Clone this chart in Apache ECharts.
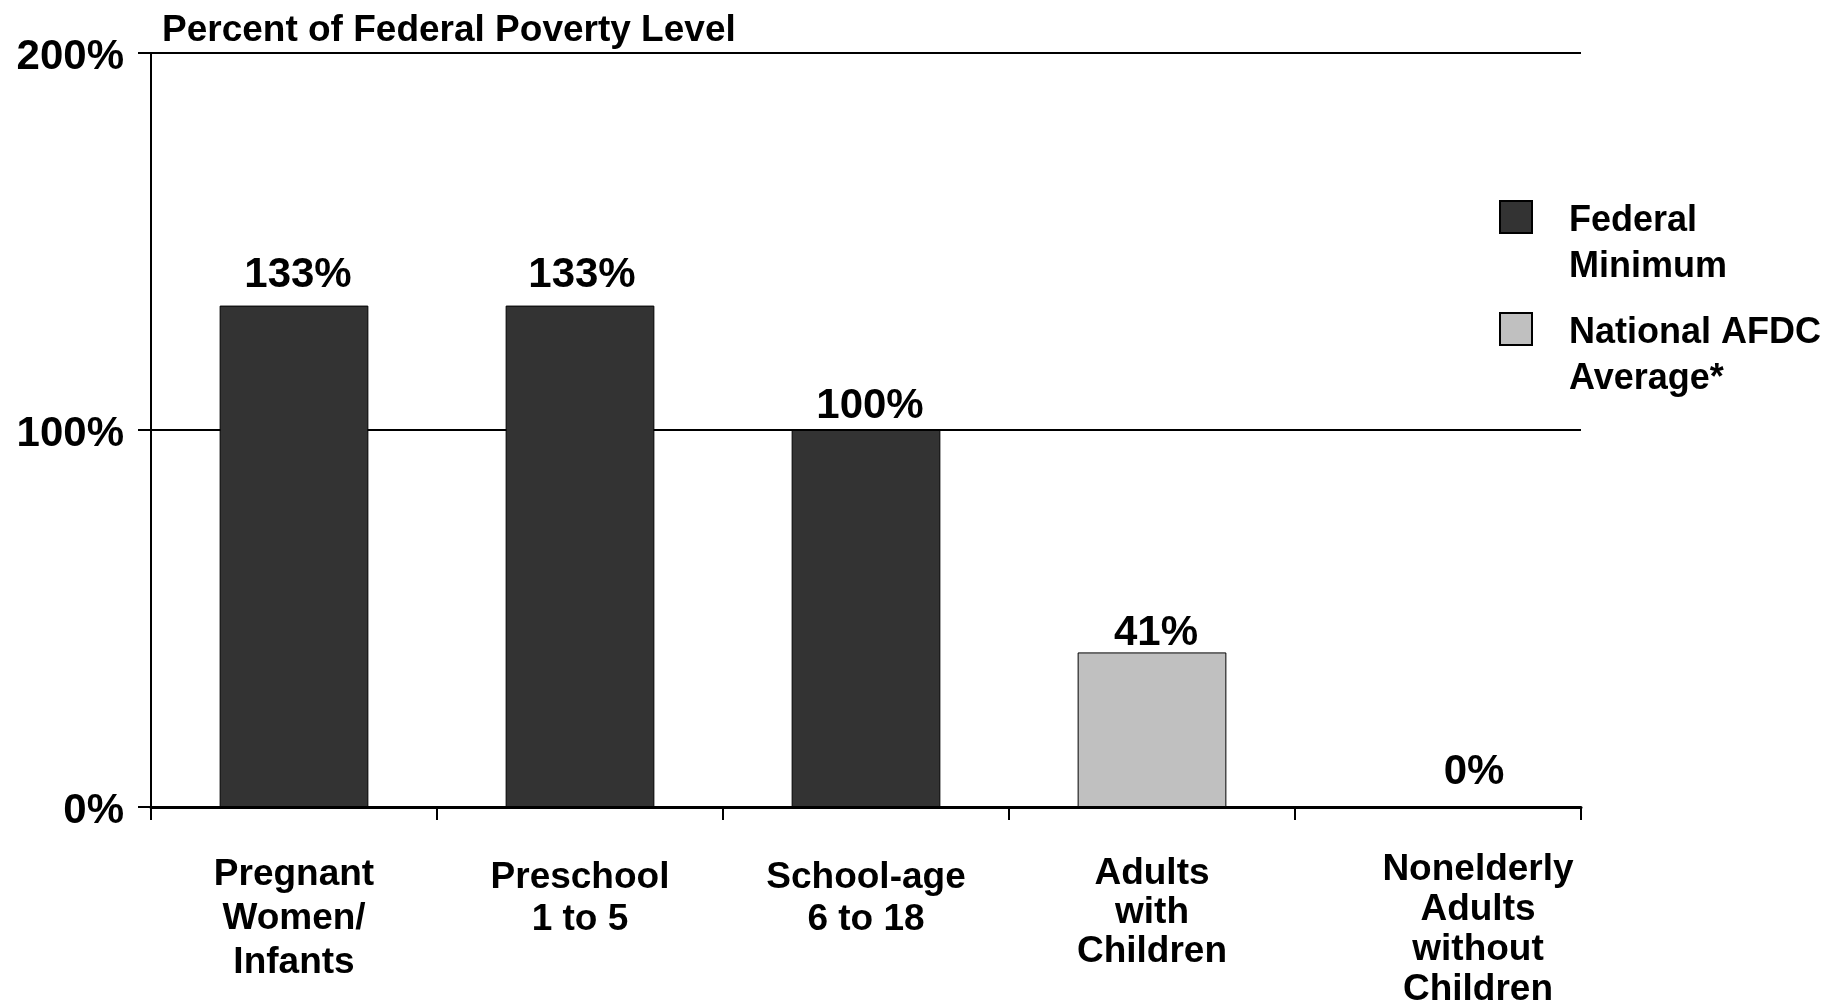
<!DOCTYPE html>
<html>
<head>
<meta charset="utf-8">
<title>Medicaid eligibility thresholds</title>
<script src="https://cdn.jsdelivr.net/npm/echarts@6/dist/echarts.min.js"></script>
<style>
  html, body { margin: 0; padding: 0; background: #ffffff; }
  #chart { width: 1847px; height: 1002px; }
</style>
</head>
<body>
<div id="chart"></div>
<script>
// Eligibility groups along the x axis
const categories = [
  'Pregnant\nWomen/\nInfants',
  'Preschool\n1 to 5',
  'School-age\n6 to 18',
  'Adults\nwith\nChildren',
  'Nonelderly\nAdults\nwithout\nChildren'
];

// Series names shown in the legend
const seriesNames = ['Federal\nMinimum', 'National AFDC\nAverage*'];

// Percent of the federal poverty level
const federalMinimum = [133, 133, 100, null, 0];
const afdcAverage = [null, null, null, 41, null];

// Y axis ticks
const yTicks = [0, 100, 200];

const FONT = '"Liberation Sans", Arial, Helvetica, sans-serif';

// Per-category label tweaks (top padding, line spacing, left padding)
const catPadTop = [6, 10, 10, 7, 3];
const catLineHeight = [44, 42, 42, 39, 40];
const catPadLeft = [0, 0, 0, 0, 80];

// Value-label placement relative to the bar top
const valueGap = [9, 9, 3, -2, 13];
const valueShiftX = [4, 2, 4, 4, 36];

const chart = echarts.init(document.getElementById('chart'), null, { renderer: 'canvas' });

function valueData(values) {
  return values.map(function (v, i) {
    if (v === null) return null;
    return {
      value: v,
      label: { distance: valueGap[i], offset: [valueShiftX[i], 0] }
    };
  });
}

const option = {
  backgroundColor: '#ffffff',
  animation: false,
  title: {
    text: 'Percent of Federal Poverty Level',
    left: 162,
    top: 12,
    padding: 0,
    textStyle: { fontFamily: FONT, fontWeight: 'bold', fontSize: 37, color: '#000000' }
  },
  legend: {
    orient: 'vertical',
    left: 1499,
    top: 144,
    padding: 0,
    itemGap: -34,
    itemWidth: 32,
    itemHeight: 32,
    icon: 'rect',
    selectedMode: false,
    data: seriesNames,
    // a blank spacer line keeps the first text line level with the swatch
    formatter: function (name) {
      return '{gap|}\n' + name.split('\n').map(function (s) { return '{t|' + s + '}'; }).join('\n');
    },
    textStyle: {
      fontFamily: FONT, fontWeight: 'bold', fontSize: 36, color: '#000000',
      lineHeight: 46,
      padding: [0, 0, 0, 32],
      rich: {
        gap: { lineHeight: 54, height: 54 },
        t: { fontFamily: FONT, fontWeight: 'bold', fontSize: 36, color: '#000000', lineHeight: 46 }
      }
    }
  },
  grid: {
    left: 151, right: 266, top: 53, bottom: 195,
    outerBoundsMode: 'none'
  },
  xAxis: {
    type: 'category',
    data: categories.map(function (c, i) {
      return {
        value: c,
        textStyle: { padding: [catPadTop[i], 0, 0, catPadLeft[i]], lineHeight: catLineHeight[i] }
      };
    }),
    axisLine: { show: true, lineStyle: { color: '#000000', width: 3 } },
    axisTick: { show: true, length: 13, inside: false, lineStyle: { color: '#000000', width: 2 } },
    axisLabel: {
      interval: 0,
      margin: 40,
      fontFamily: FONT, fontWeight: 'bold', fontSize: 37, color: '#000000',
      align: 'center'
    }
  },
  yAxis: {
    type: 'value',
    min: yTicks[0],
    max: yTicks[yTicks.length - 1],
    interval: yTicks[1] - yTicks[0],
    axisLine: { show: true, lineStyle: { color: '#000000', width: 2 } },
    axisTick: { show: true, length: 13, lineStyle: { color: '#000000', width: 2 } },
    splitLine: { show: true, lineStyle: { color: '#000000', width: 2 } },
    axisLabel: {
      margin: 27,
      formatter: '{value}%',
      fontFamily: FONT, fontWeight: 'bold', fontSize: 42, color: '#000000',
      verticalAlign: 'top',
      lineHeight: 8
    }
  },
  series: [
    {
      name: seriesNames[0],
      type: 'bar',
      barWidth: '52%',
      barGap: '-100%',
      data: valueData(federalMinimum),
      itemStyle: { color: '#333333', borderColor: '#000000', borderWidth: 1 },
      label: {
        show: true, position: 'top', formatter: '{c}%',
        fontFamily: FONT, fontWeight: 'bold', fontSize: 42, color: '#000000'
      }
    },
    {
      name: seriesNames[1],
      type: 'bar',
      barWidth: '52%',
      barGap: '-100%',
      data: valueData(afdcAverage),
      itemStyle: { color: '#c0c0c0', borderColor: '#000000', borderWidth: 1 },
      label: {
        show: true, position: 'top', formatter: '{c}%',
        fontFamily: FONT, fontWeight: 'bold', fontSize: 42, color: '#000000'
      }
    }
  ]
};

chart.setOption(option);
</script>
</body>
</html>
